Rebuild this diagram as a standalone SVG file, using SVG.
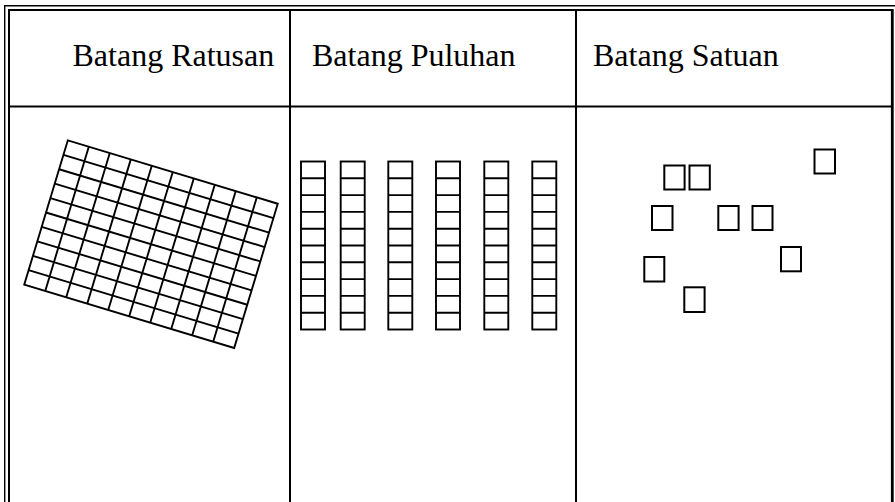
<svg xmlns="http://www.w3.org/2000/svg" width="895" height="502" viewBox="0 0 895 502">
<style>
.frame{stroke:#000;fill:none}
.hdr{font-family:"Liberation Serif","Times New Roman",serif;font-size:32px;fill:#000}
.cell{fill:#fff;stroke:#000;stroke-width:2}
.grid{stroke:#000;stroke-width:1.9;fill:none}
</style>
<rect width="895" height="502" fill="#fff"/>
<g id="table">
<path class="frame" stroke-width="1.4" d="M4.7,502 V5.7 H895"/>
<path class="frame" stroke-width="2" d="M9,502 V10 H892"/>
<path class="frame" stroke-width="2.8" d="M892.3,9 V502"/>
<path class="frame" stroke-width="2" d="M9,106.5 H892"/>
<path class="frame" stroke-width="2" d="M290,10 V502"/>
<path class="frame" stroke-width="2" d="M576,10 V502"/>
</g>
<g id="header-ratusan"><text class="hdr" x="72.5" y="66">Batang Ratusan</text></g>
<g id="header-puluhan"><text class="hdr" x="312" y="66">Batang Puluhan</text></g>
<g id="header-satuan"><text class="hdr" x="593" y="66">Batang Satuan</text></g>
<g id="ratusan" transform="translate(151,244.2) rotate(16.8)">
<rect class="grid" x="-109.65" y="-75.35" width="219.3" height="150.7" fill="#fff"/>
<path class="grid" d="M-87.72,-75.35V75.35M-65.79,-75.35V75.35M-43.86,-75.35V75.35M-21.93,-75.35V75.35M0,-75.35V75.35M21.93,-75.35V75.35M43.86,-75.35V75.35M65.79,-75.35V75.35M87.72,-75.35V75.35M-109.65,-60.28H109.65M-109.65,-45.21H109.65M-109.65,-30.14H109.65M-109.65,-15.07H109.65M-109.65,0H109.65M-109.65,15.07H109.65M-109.65,30.14H109.65M-109.65,45.21H109.65M-109.65,60.28H109.65"/>
</g>
<defs>
<g id="rod">
<rect class="grid" x="0" y="0" width="24" height="168" fill="#fff"/>
<path class="grid" d="M0,16.8H24M0,33.6H24M0,50.4H24M0,67.2H24M0,84H24M0,100.8H24M0,117.6H24M0,134.4H24M0,151.2H24"/>
</g>
</defs>
<g id="puluhan">
<use href="#rod" x="301" y="161.5"/>
<use href="#rod" x="340.7" y="161.5"/>
<use href="#rod" x="388.3" y="161.5"/>
<use href="#rod" x="436" y="161.5"/>
<use href="#rod" x="484.3" y="161.5"/>
<use href="#rod" x="532.3" y="161.5"/>
</g>
<g id="satuan">
<rect class="cell" x="814.5" y="149.5" width="20.5" height="24"/>
<rect class="cell" x="664.3" y="165.5" width="20.3" height="24"/>
<rect class="cell" x="689.5" y="165.5" width="20.3" height="24"/>
<rect class="cell" x="652" y="206" width="20.5" height="24"/>
<rect class="cell" x="718.3" y="206" width="20.3" height="24"/>
<rect class="cell" x="752.5" y="206" width="20" height="24"/>
<rect class="cell" x="781" y="247" width="20" height="24.3"/>
<rect class="cell" x="644.3" y="257" width="20" height="24.5"/>
<rect class="cell" x="684.3" y="287.3" width="20.3" height="24.7"/>
</g>
</svg>
